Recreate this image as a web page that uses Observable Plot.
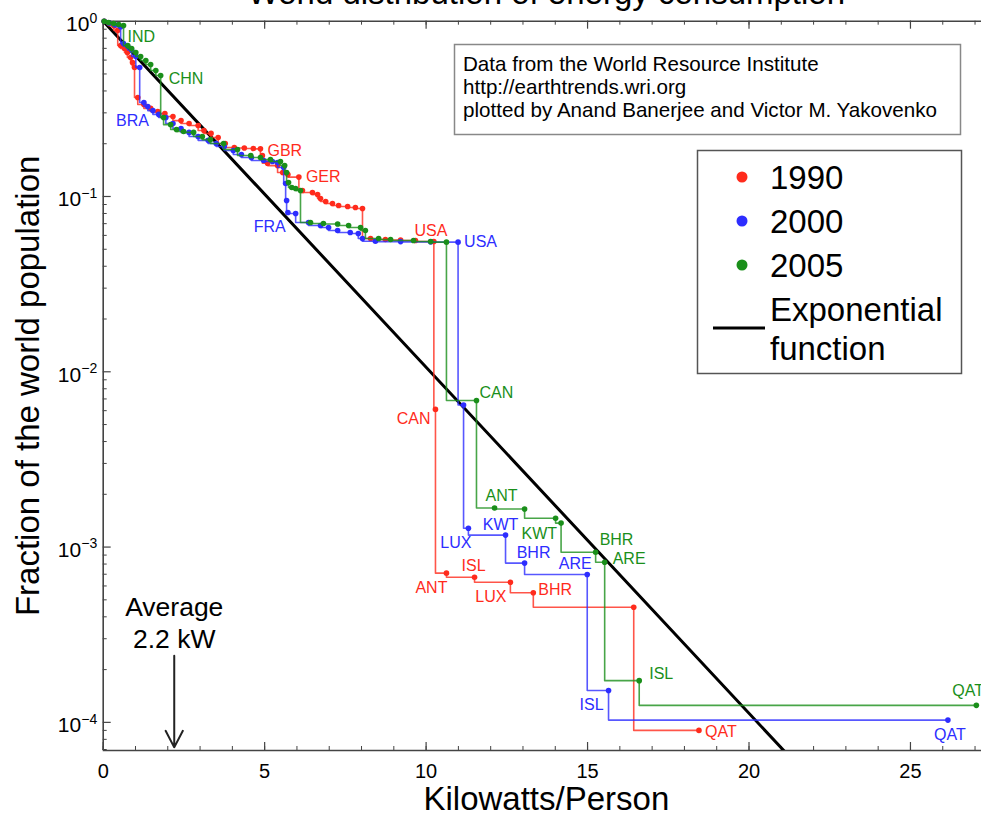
<!DOCTYPE html>
<html>
<head>
<meta charset="utf-8">
<script src="https://cdn.jsdelivr.net/npm/d3@7"></script>
<script src="https://cdn.jsdelivr.net/npm/@observablehq/plot@0.6"></script>
<style>
  html, body { margin: 0; padding: 0; background: #fff; overflow: hidden; }
  #chart { position: relative; width: 981px; height: 816px; }
</style>
</head>
<body>
<div id="chart"></div>
<script>
// Cumulative distribution of per-capita energy use: for each country,
// [kW per person, share of world population living in countries using at
// least that much, country code (only where the country is named)].
const energy1990 = [
  [0.03, 1.0, ""], [0.18, 0.975, ""], [0.33, 0.94, ""], [0.45, 0.886, "IND"],
  [0.54, 0.727, ""], [0.66, 0.699, ""], [0.75, 0.663, ""], [0.85, 0.621, ""],
  [0.91, 0.58, ""], [0.97, 0.544, "CHN"], [1.07, 0.367, ""], [1.26, 0.335, ""],
  [1.47, 0.318, ""], [1.69, 0.305, ""], [1.91, 0.297, ""], [2.16, 0.286, ""],
  [2.41, 0.271, ""], [2.66, 0.261, ""], [2.94, 0.254, ""], [3.12, 0.238, ""],
  [3.34, 0.229, ""], [3.56, 0.217, ""], [3.78, 0.2006, ""], [4.06, 0.1904, ""],
  [4.37, 0.189, ""], [4.65, 0.188, ""], [4.87, 0.187, "GBR"], [4.93, 0.171, ""],
  [5.09, 0.155, ""], [5.40, 0.150, ""], [5.56, 0.137, ""], [5.72, 0.1335, ""],
  [6.06, 0.129, "GER"], [6.17, 0.1082, ""], [6.48, 0.1054, ""], [6.64, 0.1026, ""],
  [6.73, 0.0974, ""], [6.89, 0.0936, ""], [7.10, 0.0912, ""], [7.29, 0.0889, ""],
  [7.57, 0.0877, ""], [7.81, 0.0866, ""], [8.03, 0.0854, ""], [8.28, 0.0576, ""],
  [8.74, 0.0568, ""], [9.21, 0.0565, ""], [9.67, 0.0561, ""], [10.24, 0.0554, "USA"],
  [10.29, 0.0061, "CAN"], [10.63, 0.00071, "ANT"], [11.50, 0.000673, "ISL"],
  [12.61, 0.00063, "LUX"], [13.32, 0.000549, "BHR"], [16.43, 0.000454, ""],
  [18.45, 0.00009, "QAT"]
];

const energy2000 = [
  [0.03, 1.0, ""], [0.18, 0.978, ""], [0.36, 0.955, ""], [0.54, 0.93, "IND"],
  [0.63, 0.746, ""], [0.76, 0.72, ""], [0.88, 0.685, ""], [1.01, 0.63, ""],
  [1.13, 0.544, "CHN"], [1.26, 0.344, "BRA"], [1.38, 0.326, ""], [1.54, 0.309, ""],
  [1.72, 0.294, ""], [1.94, 0.282, ""], [2.16, 0.261, ""], [2.41, 0.244, ""],
  [2.66, 0.232, ""], [2.94, 0.220, ""], [3.25, 0.209, ""], [3.50, 0.2006, ""],
  [3.75, 0.1929, ""], [4.03, 0.1830, ""], [4.28, 0.1736, ""], [4.59, 0.1669, ""],
  [4.97, 0.1604, ""], [5.24, 0.1583, ""], [5.40, 0.1563, ""], [5.59, 0.1463, ""],
  [5.65, 0.1186, ""], [5.68, 0.0949, ""], [5.72, 0.0810, ""], [5.96, 0.0800, "FRA"],
  [6.36, 0.0711, ""], [6.73, 0.0683, ""], [6.98, 0.0665, ""], [7.26, 0.0640, ""],
  [7.65, 0.0623, ""], [7.90, 0.0615, ""], [8.03, 0.0576, ""], [8.43, 0.0556, ""],
  [9.21, 0.0553, ""], [10.14, 0.0551, ""], [10.99, 0.0549, "USA"],
  [11.16, 0.00646, "CAN"], [11.31, 0.00128, "LUX"], [12.46, 0.00117, "KWT"],
  [13.05, 0.00081, "BHR"], [14.99, 0.000698, "ARE"], [15.65, 0.000152, "ISL"],
  [26.16, 0.000103, "QAT"]
];

const energy2005 = [
  [0.03, 1.0, ""], [0.165, 0.983, ""], [0.32, 0.970, ""], [0.48, 0.958, ""],
  [0.63, 0.945, "IND"], [0.76, 0.727, ""], [0.88, 0.699, ""], [1.01, 0.663, ""],
  [1.16, 0.629, ""], [1.32, 0.597, ""], [1.47, 0.566, ""], [1.63, 0.523, ""],
  [1.78, 0.490, "CHN"], [1.87, 0.282, ""], [2.09, 0.257, ""], [2.27, 0.241, ""],
  [2.49, 0.235, ""], [2.80, 0.232, ""], [3.07, 0.220, ""], [3.32, 0.211, ""],
  [3.73, 0.2006, ""], [4.16, 0.1854, ""], [4.57, 0.1713, ""], [4.87, 0.1669, ""],
  [5.18, 0.1626, ""], [5.49, 0.1583, ""], [5.62, 0.1502, ""], [5.68, 0.137, ""],
  [5.74, 0.1202, ""], [5.84, 0.1125, ""], [5.96, 0.1110, ""], [6.11, 0.1082, ""],
  [6.42, 0.0711, ""], [6.82, 0.0702, ""], [7.26, 0.0697, ""], [7.60, 0.0683, ""],
  [7.97, 0.0665, ""], [8.12, 0.0640, ""], [8.53, 0.0576, ""], [8.90, 0.0568, ""],
  [9.61, 0.0561, ""], [10.14, 0.0554, ""], [10.63, 0.0549, "USA"],
  [11.56, 0.00686, "CAN"], [12.12, 0.00167, "ANT"], [13.05, 0.00165, ""],
  [14.01, 0.00146, ""], [14.18, 0.00137, "KWT"], [15.25, 0.000935, "BHR"],
  [15.53, 0.00082, "ARE"], [16.60, 0.000173, "ISL"], [27.04, 0.000125, "QAT"]
];

const years = ["1990", "2000", "2005"];
const seriesByYear = [energy1990, energy2000, energy2005];
const yearColors = ["#ff2b1c", "#2d2dff", "#1a8f1a"];

const averagePower = 2.2;            // world mean, kW per person
const exponentialKw = [0, 21.5];     // exp(-x / mean) is a straight line on this log axis

const xTicksMajor = [0, 5, 10, 15, 20, 25];
const xTicksMinor = d3.range(0, 28);
const yTicksMajor = [1, 1e-1, 1e-2, 1e-3, 1e-4];
const yTicksMinor = d3.range(-5, 0).flatMap(e => d3.range(2, 10).map(m => m * 10 ** e));

const titleText = "World distribution of energy consumption";
const xLabel = "Kilowatts/Person";
const yLabel = "Fraction of the world population";
const creditLines = [
  "Data from the World Resource Institute",
  "http://earthtrends.wri.org",
  "plotted by Anand Banerjee and Victor M. Yakovenko"
];

// label placement: [text-anchor, dx, dy] in pixels, keyed by "year code"
const labelPlacement = {
  "1990 GBR": ["start", 7, 2],   "1990 GER": ["start", 7, 0],
  "1990 USA": ["middle", -3, -11], "1990 CAN": ["end", -5, 9],
  "1990 ANT": ["end", 1, 15],    "1990 ISL": ["middle", -1, -11],
  "1990 LUX": ["end", -4, 15],   "1990 BHR": ["start", 5, -3],
  "1990 QAT": ["start", 6, 1],
  "2000 BRA": ["end", 5, 18],    "2000 FRA": ["end", -10, 13],
  "2000 USA": ["start", 6, 0],   "2000 LUX": ["end", 3, 15],
  "2000 KWT": ["middle", -5, -10], "2000 BHR": ["middle", 9, -10],
  "2000 ARE": ["middle", -12, -11], "2000 ISL": ["end", -5, 14],
  "2000 QAT": ["middle", 2, 15],
  "2005 IND": ["start", 4, 11],  "2005 CHN": ["start", 8, 3],
  "2005 CAN": ["start", 3, -8],  "2005 ANT": ["middle", 7, -12],
  "2005 KWT": ["end", -4, 11],   "2005 BHR": ["start", 4, -12],
  "2005 ARE": ["start", 8, -3],  "2005 ISL": ["start", 10, -7],
  "2005 QAT": ["start", -24, -14]
};

const font = "'Liberation Sans', Arial, Helvetica, sans-serif";
const axisColor = "#444";
const yMin = 6.91e-5;
const yMax = 1;

const seriesMarks = seriesByYear.flatMap((rows, i) => {
  const color = yearColors[i];
  const marks = [
    Plot.line(rows, {x: d => d[0], y: d => d[1], curve: "step-before",
      stroke: color, strokeWidth: 1.6, strokeOpacity: 0.8}),
    Plot.dot(rows, {x: d => d[0], y: d => d[1], r: 2.8, fill: color})
  ];
  rows.forEach(d => {
    const place = labelPlacement[`${years[i]} ${d[2]}`];
    if (!d[2] || !place) return;
    const [anchor, dx, dy] = place;
    marks.push(Plot.text([d], {x: e => e[0], y: e => e[1], text: e => e[2],
      textAnchor: anchor, dx, dy, fill: color, fontSize: 16}));
  });
  return marks;
});

const svg = Plot.plot({
  width: 981,
  height: 816,
  marginLeft: 102.7,
  marginRight: 0,
  marginTop: 20.7,
  marginBottom: 66,
  style: {fontFamily: font, background: "white", color: "black"},
  x: {domain: [0, 27.2]},
  y: {type: "log", domain: [yMin, yMax]},
  marks: [
    // frame: left, top and bottom edges
    Plot.ruleX([0], {stroke: axisColor, strokeWidth: 1.6}),
    Plot.ruleY([yMin, yMax], {stroke: axisColor, strokeWidth: 1.6}),
    // inward ticks on bottom and top
    Plot.ruleX(xTicksMajor, {x: d => d, y1: yMin, y2: yMin, insetTop: -8, stroke: axisColor, strokeWidth: 1.2}),
    Plot.ruleX(xTicksMinor, {x: d => d, y1: yMin, y2: yMin, insetTop: -4, stroke: axisColor, strokeWidth: 1}),
    Plot.ruleX(xTicksMajor, {x: d => d, y1: yMax, y2: yMax, insetBottom: -8, stroke: axisColor, strokeWidth: 1.2}),
    Plot.ruleX(xTicksMinor, {x: d => d, y1: yMax, y2: yMax, insetBottom: -4, stroke: axisColor, strokeWidth: 1}),
    // inward ticks on the left
    Plot.ruleY(yTicksMajor, {y: d => d, x1: 0, x2: 0, insetRight: -8, stroke: axisColor, strokeWidth: 1.2}),
    Plot.ruleY(yTicksMinor.filter(v => v > yMin), {y: d => d, x1: 0, x2: 0, insetRight: -4, stroke: axisColor, strokeWidth: 1}),
    Plot.axisX({anchor: "bottom", ticks: xTicksMajor, tickSize: 0, tickPadding: 13, fontSize: 20, label: null}),
    Plot.axisY({anchor: "left", ticks: yTicksMajor, tickSize: 0, tickPadding: 6, fontSize: 21, dy: 3,
      tickFormat: d => `10^${Math.round(Math.log10(d))}`, label: null}),
    // exponential distribution with the world mean
    Plot.line(exponentialKw, {x: d => d, y: d => Math.exp(-d / averagePower),
      stroke: "black", strokeWidth: 3, clip: true}),
    ...seriesMarks,
    // average marker
    Plot.arrow([averagePower], {x: d => d, y1: 2.4e-4, y2: 7.2e-5,
      stroke: "#222", strokeWidth: 2, headLength: 14, headAngle: 55}),
    Plot.text([averagePower], {x: d => d, y: 2.4e-4, text: d => `Average\n${d} kW`,
      textAnchor: "middle", lineAnchor: "bottom", lineHeight: 1.2, dy: -8, fontSize: 26.5}),
    // titles
    Plot.text([titleText], {frameAnchor: "top", text: d => d, dx: 4, dy: -17.7,
      textAnchor: "middle", lineAnchor: "bottom", fontSize: 33}),
    Plot.text([xLabel], {frameAnchor: "bottom", text: d => d, dx: 4, dy: 36,
      textAnchor: "middle", lineAnchor: "top", fontSize: 33}),
    Plot.text([yLabel], {frameAnchor: "left", text: d => d, rotate: -90, dx: -75,
      textAnchor: "middle", lineAnchor: "middle", fontSize: 33})
  ]
});

// powers of ten as superscripts
d3.select(svg).selectAll('g[aria-label="y-axis tick label"] text').each(function () {
  const t = d3.select(this);
  const [base, exp] = t.text().split("^");
  t.text(base);
  t.append("tspan").attr("dy", "-0.6em").attr("font-size", "14px").text(exp.replace("-", "\u2212"));
});

// credit box and legend
const overlay = d3.select(svg).append("g")
  .attr("font-family", font).attr("fill", "black").attr("text-anchor", "start");

overlay.append("rect").attr("x", 454.5).attr("y", 44.5).attr("width", 506).attr("height", 90)
  .attr("fill", "white").attr("stroke", "#888").attr("stroke-width", 1.5);
creditLines.forEach((line, i) => {
  overlay.append("text").attr("x", 463).attr("y", 71 + 23 * i).attr("font-size", 20.6).text(line);
});

overlay.append("rect").attr("x", 697.5).attr("y", 150.5).attr("width", 264).attr("height", 223)
  .attr("fill", "white").attr("stroke", "#555").attr("stroke-width", 1.5);
years.forEach((year, i) => {
  overlay.append("circle").attr("cx", 742).attr("cy", 177 + 44 * i).attr("r", 5.5).attr("fill", yearColors[i]);
  overlay.append("text").attr("x", 770).attr("y", 189 + 44 * i).attr("font-size", 33).text(year);
});
overlay.append("line").attr("x1", 713).attr("x2", 765).attr("y1", 328).attr("y2", 328)
  .attr("stroke", "black").attr("stroke-width", 3);
overlay.append("text").attr("x", 770).attr("y", 321).attr("font-size", 33).text("Exponential");
overlay.append("text").attr("x", 770).attr("y", 360).attr("font-size", 33).text("function");

document.getElementById("chart").append(svg);
</script>
</body>
</html>
